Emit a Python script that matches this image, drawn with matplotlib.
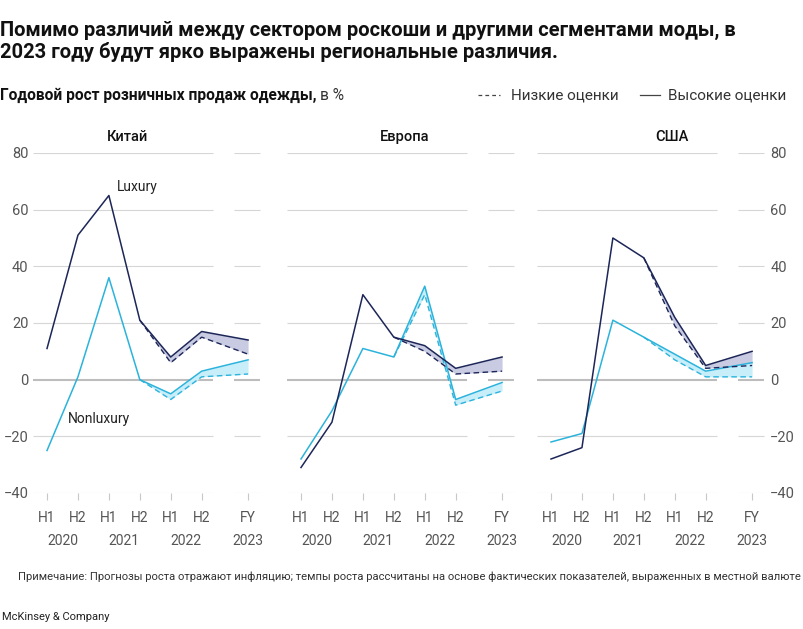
import matplotlib
matplotlib.use("Agg")
import matplotlib.pyplot as plt
from matplotlib.lines import Line2D
import numpy as np

plt.rcParams['font.family'] = ['Roboto', 'DejaVu Sans']

W, H = 804, 629

# x positions: H1..H2 of 2020-2022, then FY 2023 after a gap
x_pos = [0, 1, 2, 3, 4, 5, 6.5]
x_labels = ["H1", "H2", "H1", "H2", "H1", "H2", "FY"]
years = ["2020", "2021", "2022", "2023"]
year_pos = [0.5, 2.5, 4.5, 6.5]

regions = ["Китай", "Европа", "США"]

# high estimates (full series), low estimates from H2 2021 on
china_lux_high = [11, 51, 65, 21, 8, 17, 14]
china_lux_low = [21, 6, 15, 9]
china_non_high = [-25, 1, 36, 0, -5, 3, 7]
china_non_low = [0, -7, 1, 2]

europe_lux_high = [-31, -15, 30, 15, 12, 4, 8]
europe_lux_low = [15, 10, 2, 3]
europe_non_high = [-28, -11, 11, 8, 33, -7, -1]
europe_non_low = [8, 30, -9, -4]

usa_lux_high = [-28, -24, 50, 43, 22, 5, 10]
usa_lux_low = [43, 19, 4, 5]
usa_non_high = [-22, -19, 21, 15, 9, 3, 6]
usa_non_low = [15, 7, 1, 1]

y_ticks = [-40, -20, 0, 20, 40, 60, 80]

data = [
    (china_lux_high, china_lux_low, china_non_high, china_non_low),
    (europe_lux_high, europe_lux_low, europe_non_high, europe_non_low),
    (usa_lux_high, usa_lux_low, usa_non_high, usa_non_low),
]

NAVY = "#1c2658"
CYAN = "#2bb3dc"
NAVY_FILL = "#c9cbe2"
CYAN_FILL = "#c8eefa"
GRID = "#d6d6d6"
TXT = "#555555"

fig = plt.figure(figsize=(W / 100, H / 100), dpi=100)


def fx(px):
    return px / W


def fy(py):
    return 1 - py / H


ax_left_px = [30, 284, 534]
ax_w_px = 232
y_top, y_bot = 153, 493
title_x = [128, 405, 672]

for i, (lux_hi, lux_lo, non_hi, non_lo) in enumerate(data):
    ax = fig.add_axes([fx(ax_left_px[i]), fy(y_bot), fx(ax_w_px), (y_bot - y_top) / H])
    ax.set_xlim(-0.55, 6.95)
    ax.set_ylim(-40, 80)
    for s in ax.spines.values():
        s.set_visible(False)

    # broken gridlines
    for yv in y_ticks:
        c = "#bdbdbd" if yv == 0 else GRID
        lw = 1.5 if yv == 0 else 0.8
        ax.hlines(yv, -0.45, 5.35, color=c, lw=lw, zorder=0)
        ax.hlines(yv, 6.05, 6.9, color=c, lw=lw, zorder=0)

    xl = x_pos[3:]
    ax.fill_between(xl, lux_lo, lux_hi[3:], color=NAVY_FILL, lw=0, zorder=1)
    ax.fill_between(xl, non_lo, non_hi[3:], color=CYAN_FILL, lw=0, zorder=1)
    ax.plot(x_pos, non_hi, color=CYAN, lw=1.1, zorder=3)
    ax.plot(xl, non_lo, color=CYAN, lw=1.0, ls=(0, (4, 2.5)), zorder=3)
    ax.plot(x_pos, lux_hi, color=NAVY, lw=1.1, zorder=4)
    ax.plot(xl, lux_lo, color=NAVY, lw=1.0, ls=(0, (4, 2.5)), zorder=4)

    ax.set_xticks(x_pos)
    ax.set_xticklabels(x_labels)
    ax.tick_params(axis="x", length=5, width=0.8, color="#c8c8c8", pad=8,
                   labelsize=10, labelcolor=TXT)
    for xp, yr in zip(year_pos, years):
        ax.annotate(yr, xy=(xp, 0), xycoords=("data", "axes fraction"),
                    xytext=(0, -34.5), textcoords="offset points",
                    ha="center", va="center", fontsize=10, color=TXT)

    ax.set_yticks(y_ticks)
    ax.set_yticklabels([str(v).replace("-", "\u2212") for v in y_ticks])
    if i == 0:
        ax.tick_params(axis="y", length=0, pad=1, labelsize=10.5, labelcolor=TXT)
    elif i == 2:
        ax.yaxis.tick_right()
        ax.tick_params(axis="y", length=0, pad=3, labelsize=10.5, labelcolor=TXT)
    else:
        ax.tick_params(axis="y", length=0, labelleft=False)

    fig.text(fx(title_x[i]), fy(137), regions[i], ha="center", va="center",
             fontsize=10.5, fontweight="medium", color="#111111")

    if i == 0:
        ax.text(2.26, 68, "Luxury", ha="left", va="center", fontsize=10, color="#222222")
        ax.text(0.68, -13.8, "Nonluxury", ha="left", va="center", fontsize=10, color="#222222")

# title
fig.text(fx(0), fy(30), "Помимо различий между сектором роскоши и другими сегментами моды, в",
         ha="left", va="center", fontsize=14.5, fontweight="bold", color="#111111")
fig.text(fx(0), fy(52), "2023 году будут ярко выражены региональные различия.",
         ha="left", va="center", fontsize=14.5, fontweight="bold", color="#111111")

# subtitle
sub = fig.text(fx(0), fy(95), "Годовой рост розничных продаж одежды,", ha="left", va="center",
               fontsize=11.2, fontweight="bold", color="#111111")
fig.canvas.draw()
bb = sub.get_window_extent()
fig.text(bb.x1 / W + fx(4), fy(95), "в %", ha="left", va="center", fontsize=11.2, color="#333333")

# legend
fig.add_artist(Line2D([fx(478), fx(500)], [fy(95), fy(95)], color="#444444", lw=0.9,
                      ls=(0, (3, 2.5)), transform=fig.transFigure))
fig.text(fx(511), fy(95), "Низкие оценки", ha="left", va="center", fontsize=11, color="#333333")
fig.add_artist(Line2D([fx(640), fx(660)], [fy(95), fy(95)], color="#444444", lw=0.9,
                      transform=fig.transFigure))
fig.text(fx(668), fy(95), "Высокие оценки", ha="left", va="center", fontsize=11, color="#333333")

# footnote
fig.text(fx(18), fy(577), "Примечание: Прогнозы роста отражают инфляцию; темпы роста рассчитаны на основе "
         "фактических показателей, выраженных в местной валюте",
         ha="left", va="center", fontsize=8.1, color="#333333")
fig.text(fx(2), fy(617), "McKinsey & Company", ha="left", va="center", fontsize=8, color="#222222")

fig.savefig("out.png", dpi=100)
